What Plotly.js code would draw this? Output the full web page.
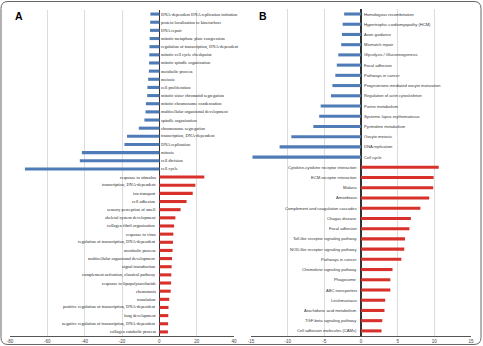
<!DOCTYPE html>
<html>
<head>
<meta charset="utf-8">
<script src="https://cdn.plot.ly/plotly-3.0.1.min.js"></script>
<style>html,body{margin:0;padding:0;background:#fff;}#chart{width:483px;height:346px;}</style>
</head>
<body>
<div id="chart"></div>
<script>
// Panel A: GO terms
const aDownLabels = ["DNA-dependent DNA replication initiation","protein localization to kinetochore","DNA repair","mitotic metaphase plate congression","regulation of transcription, DNA-dependent","mitotic cell cycle checkpoint","mitotic spindle organization","metabolic process","meiosis","cell proliferation","mitotic sister chromatid segregation","mitotic chromosome condensation","multicellular organismal development","spindle organization","chromosome segregation","transcription, DNA-dependent","DNA replication","mitosis","cell division","cell cycle"];
const aDownValues = [-4.8,-4.9,-5.0,-5.2,-5.3,-5.4,-5.5,-5.6,-6.0,-6.4,-6.5,-7.2,-7.4,-8.0,-11.0,-17.3,-18.7,-41.5,-42.6,-72.0];
const aUpLabels = ["response to stimulus","transcription, DNA-dependent","ion transport","cell adhesion","sensory perception of smell","skeletal system development","collagen fibril organization","response to virus","regulation of transcription, DNA-dependent","metabolic process","multicellular organismal development","signal transduction","complement activation, classical pathway","response to lipopolysaccharide","chemotaxis","translation","positive regulation of transcription, DNA-dependent","lung development","negative regulation of transcription, DNA-dependent","collagen catabolic process"];
const aUpValues = [24.1,19.3,17.9,14.6,11.4,8.6,7.9,7.5,7.3,7.1,6.8,6.6,6.4,6.3,6.1,5.3,4.9,4.8,4.7,4.6];
const aTicks = [-80,-60,-40,-20,0,20,40];

// Panel B: KEGG pathways
const bDownLabels = ["Homologous recombination","Hypertrophic cardiomyopathy (HCM)","Axon guidance","Mismatch repair","Glycolysis / Gluconeogenesis","Focal adhesion","Pathways in cancer","Progesterone-mediated oocyte maturation","Regulation of actin cytoskeleton","Purine metabolism","Systemic lupus erythematosus","Pyrimidine metabolism","Oocyte meiosis","DNA replication","Cell cycle"];
const bDownValues = [-2.3,-2.5,-2.6,-2.7,-3.1,-3.3,-3.5,-3.9,-4.1,-5.5,-5.7,-6.5,-9.5,-11.1,-14.8];
const bUpLabels = ["Cytokine-cytokine receptor interaction","ECM-receptor interaction","Malaria","Amoebiasis","Complement and coagulation cascades","Chagas disease","Focal adhesion","Toll-like receptor signaling pathway","NOD-like receptor signaling pathway","Pathways in cancer","Chemokine signaling pathway","Phagosome","ABC transporters","Leishmaniasis","Arachidonic acid metabolism","TGF-beta signaling pathway","Cell adhesion molecules (CAMs)"];
const bUpValues = [10.6,9.9,9.85,9.3,8.1,6.8,6.6,6.0,5.9,5.5,4.3,4.0,4.0,3.3,3.2,2.9,2.8];
const bTicks = [-15,-10,-5,0,5,10,15];

const BLUE = '#4f7cb6', RED = '#d8302a';
const W = 483, H = 346;

const aDownY = aDownLabels.map((_, i) => i);
const aUpY = aUpLabels.map((_, i) => i + aDownLabels.length);
const bDownY = bDownLabels.map((_, i) => i);
const bUpY = bUpLabels.map((_, i) => i + bDownLabels.length);

const traces = [
  {type:'bar', orientation:'h', x:aDownValues, y:aDownY, xaxis:'x', yaxis:'y', marker:{color:BLUE}, width:0.38, hoverinfo:'skip'},
  {type:'bar', orientation:'h', x:aUpValues, y:aUpY, xaxis:'x', yaxis:'y', marker:{color:RED}, width:0.38, hoverinfo:'skip'},
  {type:'bar', orientation:'h', x:bDownValues, y:bDownY, xaxis:'x2', yaxis:'y2', marker:{color:BLUE}, width:0.3, hoverinfo:'skip'},
  {type:'bar', orientation:'h', x:bUpValues, y:bUpY, xaxis:'x2', yaxis:'y2', marker:{color:RED}, width:0.3, hoverinfo:'skip'}
];

const ann = [];
const aFont = {family:'Liberation Serif, serif', size:4.4, color:'#222'};
const bFont = {family:'Liberation Sans, Arial, sans-serif', size:4.1, color:'#333'};
aDownLabels.forEach((t, i) => ann.push({text:t, x:0, y:aDownY[i], xref:'x', yref:'y', xanchor:'left', yanchor:'middle', xshift:1, showarrow:false, font:aFont, borderpad:0}));
aUpLabels.forEach((t, i) => ann.push({text:t, x:0, y:aUpY[i], xref:'x', yref:'y', xanchor:'right', yanchor:'middle', xshift:-2, showarrow:false, font:aFont, borderpad:0}));
bDownLabels.forEach((t, i) => ann.push({text:t, x:0, y:bDownY[i], xref:'x2', yref:'y2', xanchor:'left', yanchor:'middle', xshift:1.5, showarrow:false, font:bFont, borderpad:0}));
bUpLabels.forEach((t, i) => ann.push({text:t, x:0, y:bUpY[i], xref:'x2', yref:'y2', xanchor:'right', yanchor:'middle', xshift:-3, showarrow:false, font:bFont, borderpad:0}));
ann.push({text:'<b>A</b>', x:14/W, y:1-9/H, xref:'paper', yref:'paper', xanchor:'left', yanchor:'top', showarrow:false, font:{family:'Liberation Sans, Arial', size:10.5, color:'#000'}, borderpad:0});
ann.push({text:'<b>B</b>', x:257.5/W, y:1-9/H, xref:'paper', yref:'paper', xanchor:'left', yanchor:'top', showarrow:false, font:{family:'Liberation Sans, Arial', size:10.5, color:'#000'}, borderpad:0});

const tickFont = {family:'Liberation Sans, Arial', size:4.5, color:'#444'};
const xCommon = {showgrid:true, gridcolor:'#dcdcdc', gridwidth:1, zeroline:true, zerolinecolor:'#333', zerolinewidth:1.2,
  showline:true, linecolor:'#555', linewidth:1.3, ticks:'', tickfont:tickFont, fixedrange:true, tickmode:'array'};

// rounded outer frame (paper coordinates)
function px(x){return (x/W).toFixed(5);} function py(y){return (1-y/H).toFixed(5);}
const L=1, T=1.5, R=481, B=344.5, r=7;
const framePath = 'M'+px(L+r)+','+py(T)+' L'+px(R-r)+','+py(T)+' Q'+px(R)+','+py(T)+' '+px(R)+','+py(T+r)+
  ' L'+px(R)+','+py(B-r)+' Q'+px(R)+','+py(B)+' '+px(R-r)+','+py(B)+' L'+px(L+r)+','+py(B)+' Q'+px(L)+','+py(B)+' '+px(L)+','+py(B-r)+
  ' L'+px(L)+','+py(T+r)+' Q'+px(L)+','+py(T)+' '+px(L+r)+','+py(T)+' Z';

const layout = {
  width:W, height:H, margin:{l:0, r:0, t:0, b:0}, paper_bgcolor:'#fff', plot_bgcolor:'#fff', showlegend:false, barmode:'overlay',
  xaxis: Object.assign({}, xCommon, {domain:[10/W, 234/W], range:[-80, 40], tickvals:aTicks, ticktext:aTicks.map(String), anchor:'y'}),
  yaxis: {domain:[(H-336)/H, (H-10)/H], range:[aDownLabels.length + aUpLabels.length - 0.5, -0.5], showticklabels:false, showgrid:false, zeroline:false, ticks:'', anchor:'x'},
  xaxis2: Object.assign({}, xCommon, {domain:[251/W, 471/W], range:[-15, 15], tickvals:bTicks, ticktext:bTicks.map(String), anchor:'y2'}),
  yaxis2: {domain:[(H-336)/H, (H-8.9)/H], range:[bDownLabels.length + bUpLabels.length - 0.5, -0.5], showticklabels:false, showgrid:false, zeroline:false, ticks:'', anchor:'x2'},
  annotations: ann,
  shapes: [
    {type:'path', xref:'paper', yref:'paper', path:framePath, line:{color:'#666', width:1}}
  ]
};

Plotly.newPlot('chart', traces, layout, {displayModeBar:false, staticPlot:true});
</script>
</body>
</html>
